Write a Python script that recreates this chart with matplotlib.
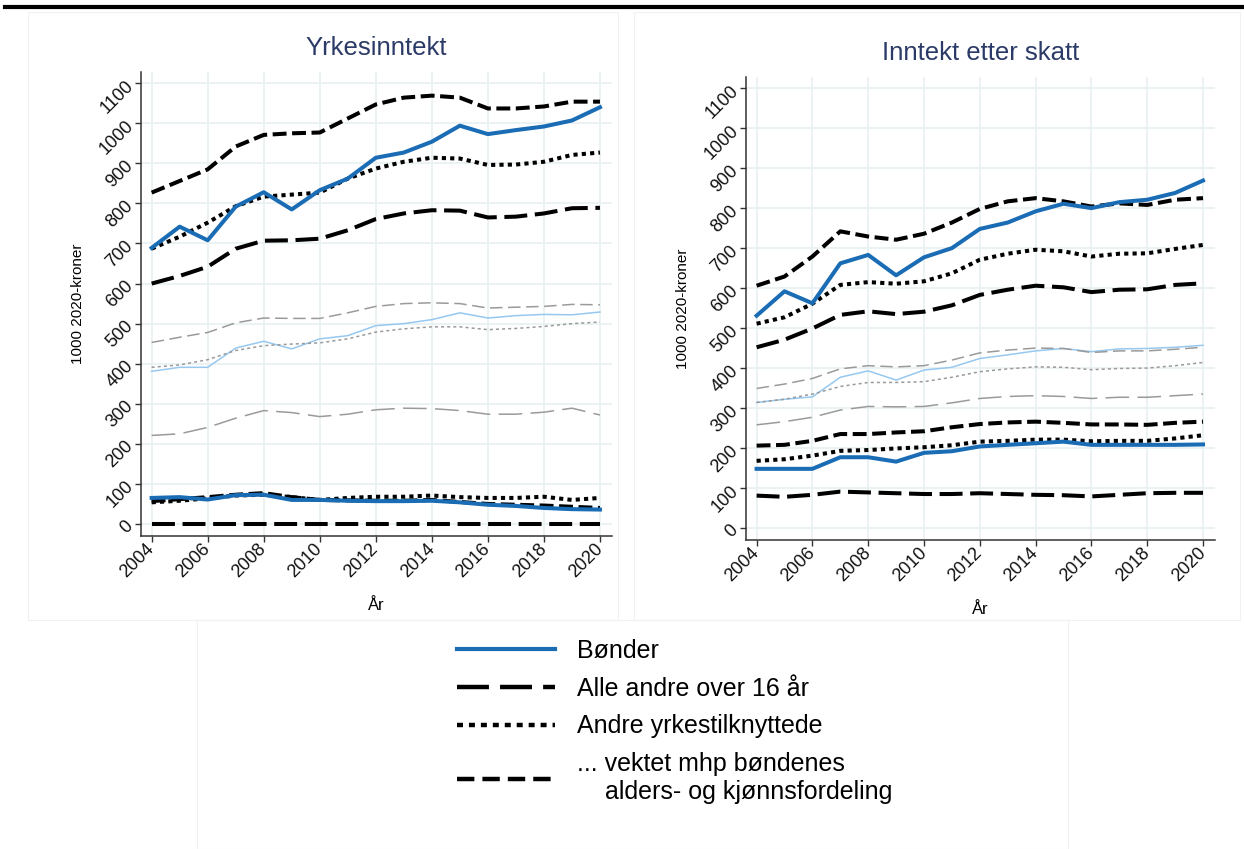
import matplotlib
matplotlib.use('Agg')
import matplotlib.pyplot as plt
from matplotlib.lines import Line2D
from matplotlib.patches import Rectangle

plt.rcParams['font.family'] = ['Liberation Sans', 'DejaVu Sans']
plt.rcParams['lines.scale_dashes'] = False

years = list(range(2004, 2021))

# Yrkesinntekt - upper (thick) group
yrk_bonder = [689, 742, 708, 792, 828, 785, 833, 862, 914, 927, 954, 994, 973, 983, 992, 1007, 1040]
yrk_alle = [600, 619, 642, 687, 707, 708, 712, 733, 761, 775, 783, 782, 765, 767, 775, 788, 789]
yrk_andre = [687, 717, 752, 793, 817, 822, 827, 862, 887, 904, 914, 912, 896, 897, 904, 921, 927]
yrk_vektet = [827, 856, 885, 942, 971, 975, 977, 1012, 1047, 1064, 1069, 1064, 1037, 1037, 1042, 1054, 1054]
# Yrkesinntekt - thin group
yrk_bonder_t = [381, 391, 391, 439, 456, 437, 462, 470, 495, 500, 510, 527, 514, 520, 523, 522, 529]
yrk_alle_t = [221, 225, 241, 264, 283, 278, 268, 274, 285, 289, 288, 283, 274, 274, 279, 289, 272]
yrk_andre_t = [391, 397, 410, 433, 445, 449, 452, 462, 479, 487, 492, 492, 485, 488, 493, 500, 504]
yrk_vektet_t = [453, 466, 478, 502, 514, 513, 513, 527, 543, 550, 552, 550, 539, 541, 543, 548, 547]
# Yrkesinntekt - lower (thick) group
yrk_bonder_l = [65, 67, 61, 72, 73, 60, 60, 58, 57, 57, 58, 54, 48, 45, 40, 37, 36]
yrk_alle_l = [0, 0, 0, 0, 0, 0, 0, 0, 0, 0, 0, 0, 0, 0, 0, 0, 0]
yrk_andre_l = [54, 58, 64, 71, 73, 67, 60, 65, 68, 68, 71, 67, 65, 65, 68, 60, 65]
yrk_vektet_l = [57, 62, 67, 73, 77, 67, 60, 59, 58, 58, 60, 55, 50, 48, 46, 43, 40]

# Inntekt etter skatt - upper group
skatt_bonder = [531, 592, 562, 662, 683, 632, 677, 700, 748, 764, 792, 811, 800, 815, 821, 838, 869]
skatt_alle = [452, 471, 499, 533, 542, 535, 541, 557, 583, 596, 606, 602, 590, 596, 597, 608, 612]
skatt_andre = [511, 527, 561, 608, 615, 611, 617, 637, 671, 686, 696, 692, 679, 686, 687, 698, 708]
skatt_vektet = [606, 629, 679, 742, 729, 721, 736, 764, 798, 817, 825, 817, 804, 812, 808, 821, 825]
# Inntekt etter skatt - thin group
skatt_bonder_t = [314, 322, 328, 377, 393, 370, 395, 402, 424, 433, 443, 449, 441, 448, 449, 452, 457]
skatt_alle_t = [258, 266, 277, 295, 304, 303, 304, 313, 324, 329, 331, 329, 324, 327, 327, 331, 335]
skatt_andre_t = [314, 322, 335, 354, 364, 364, 366, 377, 391, 398, 403, 402, 396, 399, 400, 406, 414]
skatt_vektet_t = [349, 360, 374, 398, 406, 403, 406, 420, 438, 445, 450, 449, 439, 443, 443, 447, 452]
# Inntekt etter skatt - lower group
skatt_bonder_l = [148, 148, 148, 177, 177, 166, 188, 192, 204, 208, 212, 216, 208, 208, 208, 208, 209]
skatt_alle_l = [81, 78, 83, 91, 89, 87, 85, 85, 87, 85, 83, 82, 79, 83, 87, 88, 88]
skatt_andre_l = [168, 172, 181, 193, 195, 199, 202, 207, 216, 218, 221, 221, 217, 218, 218, 224, 232]
skatt_vektet_l = [206, 208, 218, 235, 235, 239, 242, 252, 260, 264, 266, 263, 259, 259, 258, 263, 266]

blue = '#1a6cb4'
lightblue = '#96c8f0'
gray = '#9a9a9a'
navy = '#2b3a67'
grid_c = '#e9f1f3'

thick = 2.9
thin = 1.1
d_long = (16.5, 5.5)
d_dash = (10, 4)
d_dot = (3, 3)
t_long = (17, 6)
t_dash = (9, 4)
t_dot = (2.2, 2.2)

fig = plt.figure(figsize=(12.44, 8.49), dpi=100)

# faint panel frames and top rule
for (x0, y0, w, h) in [(28, 12, 590, 608), (634, 12, 606, 608), (197, 620, 871, 229)]:
    fig.add_artist(Rectangle((x0 / 1244, 1 - (y0 + h) / 849), w / 1244, h / 849,
                             transform=fig.transFigure, fill=False, ec='#f1f1f1', lw=0.8))
fig.add_artist(Line2D([0.004, 1.0], [1 - 7 / 849, 1 - 7 / 849], transform=fig.transFigure,
                      color='black', lw=3))


def draw(ax, title, upper, thinset, lower):
    for vals, ls, col in zip(thinset, [None, t_long, t_dot, t_dash], [lightblue, gray, gray, gray]):
        if ls is None:
            ax.plot(years, vals, color=col, lw=thin)
        else:
            ax.plot(years, vals, color=col, lw=thin, dashes=ls)
    for grp in (upper, lower):
        b, a, o, v = grp
        ax.plot(years, a, color='black', lw=thick, dashes=d_long)
        ax.plot(years, o, color='black', lw=thick, dashes=d_dot)
        ax.plot(years, v, color='black', lw=thick, dashes=d_dash)
    for grp in (upper, lower):
        ax.plot(years, grp[0], color=blue, lw=thick)
    ax.set_xlim(2003.62, 2020.43)
    ax.set_ylim(-30, 1128)
    ax.set_xticks(range(2004, 2021, 2))
    ax.set_yticks(range(0, 1101, 100))
    ax.grid(True, color=grid_c, lw=1.3)
    ax.set_axisbelow(True)
    for s in ['top', 'right']:
        ax.spines[s].set_visible(False)
    for s in ['left', 'bottom']:
        ax.spines[s].set_color('#333333')
        ax.spines[s].set_linewidth(1.1)
    ax.tick_params(colors='#333333', labelcolor='#111111', length=4, width=1, labelsize=13)
    for lab in ax.get_xticklabels():
        lab.set_rotation(45)
        lab.set_ha('right')
        lab.set_va('center')
        lab.set_rotation_mode('anchor')
    for lab in ax.get_yticklabels():
        lab.set_rotation(45)
        lab.set_ha('right')
        lab.set_va('center')
        lab.set_rotation_mode('anchor')
    ax.set_title(title, color=navy, fontsize=18.5, pad=12)
    ax.set_xlabel('År', fontsize=12, labelpad=12)
    ax.set_ylabel('1000 2020-kroner', fontsize=11, labelpad=8)


ax1 = fig.add_axes([141 / 1244, 1 - 536 / 849, 471 / 1244, 464 / 849])
ax2 = fig.add_axes([746 / 1244, 1 - 540 / 849, 469 / 1244, 463 / 849])

draw(ax1, 'Yrkesinntekt',
     (yrk_bonder, yrk_alle, yrk_andre, yrk_vektet),
     (yrk_bonder_t, yrk_alle_t, yrk_andre_t, yrk_vektet_t),
     (yrk_bonder_l, yrk_alle_l, yrk_andre_l, yrk_vektet_l))
draw(ax2, 'Inntekt etter skatt',
     (skatt_bonder, skatt_alle, skatt_andre, skatt_vektet),
     (skatt_bonder_t, skatt_alle_t, skatt_andre_t, skatt_vektet_t),
     (skatt_bonder_l, skatt_alle_l, skatt_andre_l, skatt_vektet_l))

handles = [
    Line2D([], [], color=blue, lw=3),
    Line2D([], [], color='black', lw=3.2, dashes=(23, 8)),
    Line2D([], [], color='black', lw=3.2, dashes=(4.3, 4.3)),
    Line2D([], [], color='black', lw=3.2, dashes=(12.5, 5.8)),
]
labels = ['Bønder', 'Alle andre over 16 år', 'Andre yrkestilknyttede',
          '... vektet mhp bøndenes\n    alders- og kjønnsfordeling']
fig.legend(handles, labels, loc='upper left', bbox_to_anchor=(457 / 1244, 1 - 639 / 849),
           frameon=False, fontsize=18, handlelength=3.9, handletextpad=0.9,
           labelspacing=0.55, borderpad=0, borderaxespad=0)

fig.savefig('out.png', dpi=100)
